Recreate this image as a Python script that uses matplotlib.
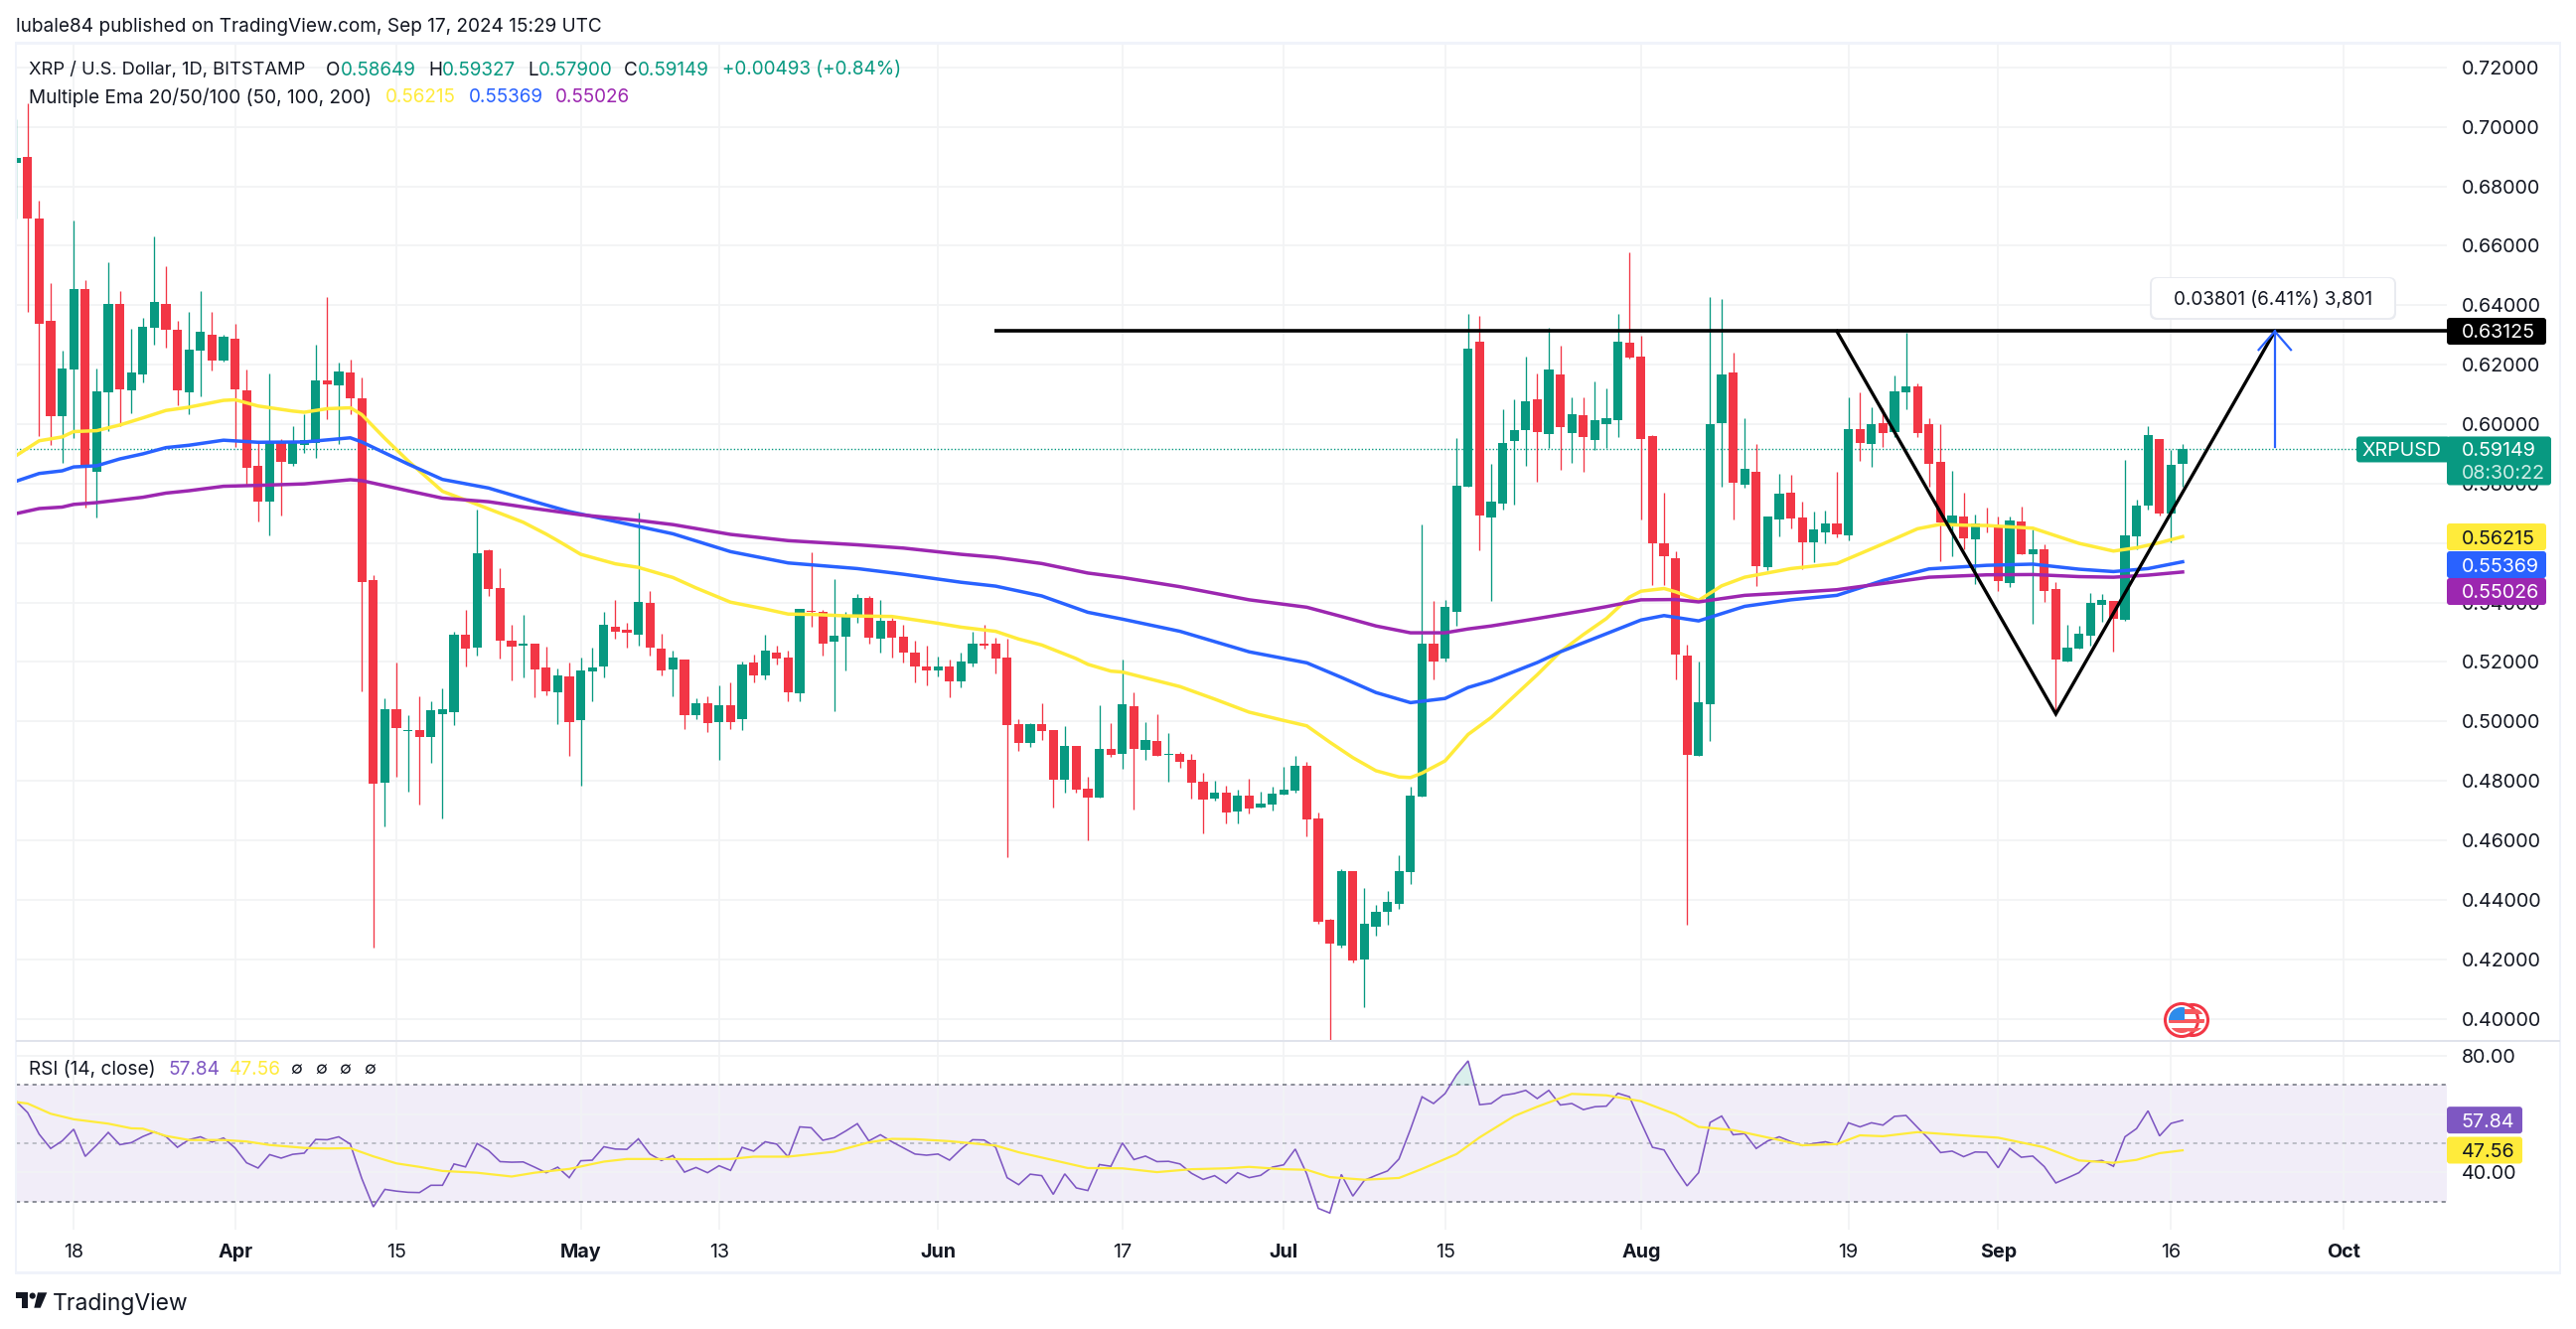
import matplotlib
matplotlib.use("Agg")
import matplotlib.pyplot as plt
from matplotlib.patches import FancyBboxPatch, Circle, Rectangle, Polygon

plt.rcParams['font.family'] = ['Inter', 'DejaVu Sans']

W, H = 2593, 1338
# ---- data: day index 0 = 13 Mar 2024 -------------------------------------------
opens = [.6879,.6898,.6692,.6347,.6028,.6185,.6454,.5841,.6108,.6405,
 .6115,.6168,.6324,.6405,.6317,.6107,.6248,.6301,.6214,.6287,
 .6113,.5860,.5738,.5943,.5867,.5931,.5938,.6147,.6130,.6174,
 .6087,.5474,.4793,.5040,.4967,.4970,.4946,.5023,.5030,.5290,
 .5247,.5574,.5447,.5270,.5254,.5263,.5180,.5097,.5151,.5003,
 .5167,.5186,.5317,.5307,.5293,.5400,.5244,.5174,.5207,.5020,
 .5060,.4997,.5053,.5007,.5197,.5156,.5233,.5214,.5093,.5373,
 .5370,.5267,.5284,.5357,.5414,.5277,.5337,.5284,.5233,.5186,
 .5170,.5184,.5133,.5196,.5260,.5260,.5214,.4990,.4926,.4990,
 .4970,.4803,.4916,.4772,.4742,.4907,.4890,.5050,.4903,.4933,
 .4886,.4890,.4870,.4796,.4739,.4760,.4697,.4750,.4709,.4719,
 .4753,.4767,.4850,.4673,.4332,.4245,.4495,.4199,.4310,.4358,
 .4386,.4492,.4746,.5260,.5210,.5369,.5791,.6279,.5687,.5734,
 .5944,.5980,.6085,.5968,.6168,.5971,.6031,.5948,.5999,.6014,
 .6275,.6228,.5961,.5600,.5550,.5223,.4883,.5058,.6004,.6175,
 .5797,.5841,.5520,.5679,.5770,.5687,.5601,.5635,.5667,.5627,
 .5984,.5934,.6004,.5974,.6108,.6128,.6001,.5874,.5657,.5690,
 .5614,.5663,.5660,.5466,.5674,.5563,.5580,.5446,.5202,.5246,
 .5289,.5393,.5406,.5343,.5623,.5727,.5951,.5700,.58649]
highs = [.7026,.7078,.6751,.6475,.6247,.6684,.6486,.6187,.6544,.6449,
 .6321,.6357,.6630,.6531,.6347,.6377,.6449,.6377,.6301,.6337,
 .6184,.5940,.6170,.5950,.5994,.6032,.6268,.6428,.6207,.6217,
 .6156,.5491,.5077,.5197,.5022,.5083,.5067,.5110,.5303,.5374,
 .5714,.5578,.5517,.5326,.5360,.5263,.5251,.5177,.5197,.5214,
 .5247,.5370,.5407,.5333,.5701,.5440,.5295,.5237,.5207,.5077,
 .5083,.5120,.5130,.5200,.5226,.5293,.5256,.5237,.5380,.5570,
 .5376,.5480,.5370,.5428,.5421,.5407,.5347,.5326,.5270,.5254,
 .5217,.5207,.5230,.5303,.5324,.5280,.5277,.5007,.4994,.5060,
 .4970,.4983,.4916,.4813,.5053,.4993,.5207,.5097,.4997,.5023,
 .4960,.4897,.4890,.4826,.4800,.4783,.4770,.4806,.4762,.4779,
 .4846,.4883,.4863,.4693,.4336,.4502,.4495,.4439,.4383,.4429,
 .4549,.4779,.5661,.5404,.5407,.5952,.6372,.6365,.5867,.6049,
 .6082,.6228,.6169,.6325,.6265,.6091,.6091,.6145,.6121,.6372,
 .6579,.6299,.5964,.5770,.5573,.5257,.5202,.6428,.6420,.6242,
 .6021,.5934,.5690,.5834,.5831,.5740,.5707,.5710,.5841,.6091,
 .6108,.6056,.6052,.6164,.6309,.6138,.6021,.6000,.5844,.5768,
 .5696,.5718,.5690,.5690,.5724,.5646,.5596,.5470,.5325,.5323,
 .5431,.5430,.5406,.5881,.5746,.5993,.5951,.5913,.59327]
lows = [.6693,.6377,.5960,.5929,.5871,.5952,.5721,.5687,.5978,.5994,
 .6038,.6141,.6268,.6259,.6063,.6034,.6093,.6180,.6210,.5923,
 .5797,.5671,.5625,.5691,.5861,.5903,.5886,.6017,.5934,.6034,
 .5102,.4240,.4646,.4815,.4763,.4720,.4860,.4672,.4987,.5186,
 .5223,.5421,.5210,.5137,.5147,.5080,.5089,.4990,.4883,.4783,
 .5067,.5147,.5277,.5247,.5255,.5223,.5154,.5086,.4974,.5006,
 .4963,.4870,.4974,.4970,.5131,.5140,.5193,.5067,.5067,.5320,
 .5223,.5033,.5170,.5333,.5263,.5233,.5214,.5197,.5130,.5120,
 .5150,.5080,.5116,.5184,.5244,.5160,.4544,.4900,.4913,.4937,
 .4709,.4760,.4760,.4600,.4742,.4880,.4839,.4702,.4870,.4883,
 .4797,.4843,.4740,.4623,.4733,.4656,.4656,.4690,.4709,.4699,
 .4753,.4761,.4613,.4318,.3928,.4239,.4188,.4039,.4279,.4316,
 .4369,.4453,.4746,.5140,.5200,.5323,.5791,.5577,.5406,.5713,
 .5730,.5861,.5807,.5921,.5847,.5869,.5841,.5913,.5921,.5958,
 .6219,.5679,.5460,.5460,.5140,.4317,.4883,.4933,.5791,.5679,
 .5785,.5456,.5510,.5623,.5648,.5512,.5536,.5598,.5620,.5610,
 .5877,.5855,.5924,.5958,.6049,.5958,.5791,.5540,.5557,.5579,
 .5462,.5635,.5440,.5451,.5562,.5328,.5401,.5033,.5200,.5245,
 .5256,.5334,.5236,.5338,.5579,.5713,.5692,.5601,.57900]
closes = [.6894,.6692,.6338,.6028,.6187,.6454,.5854,.6110,.6405,.6118,
 .6174,.6328,.6410,.6318,.6115,.6251,.6310,.6214,.6294,.6118,
 .5854,.5741,.5940,.5874,.5935,.5946,.6147,.6133,.6177,.6087,
 .5470,.4790,.5040,.4977,.4970,.4949,.5037,.5040,.5293,.5244,
 .5567,.5444,.5270,.5251,.5260,.5174,.5100,.5153,.4997,.5170,
 .5180,.5324,.5300,.5297,.5403,.5247,.5170,.5214,.5020,.5060,
 .4993,.5053,.4997,.5193,.5156,.5237,.5210,.5097,.5380,.5367,
 .5263,.5287,.5360,.5414,.5280,.5337,.5280,.5230,.5184,.5170,
 .5184,.5133,.5200,.5260,.5255,.5211,.4987,.4926,.4990,.4967,
 .4803,.4916,.4770,.4742,.4907,.4886,.5057,.4907,.4937,.4883,
 .4890,.4863,.4793,.4736,.4760,.4693,.4750,.4706,.4723,.4756,
 .4770,.4850,.4669,.4326,.4252,.4495,.4196,.4319,.4358,.4392,
 .4495,.4750,.5263,.5200,.5384,.5794,.6255,.5694,.5740,.5938,
 .5981,.6078,.5974,.6185,.5991,.6035,.5958,.6014,.6021,.6279,
 .6225,.5951,.5600,.5557,.5226,.4886,.5063,.6000,.6168,.5802,
 .5850,.5523,.5690,.5767,.5684,.5603,.5646,.5667,.5630,.5984,
 .5938,.6000,.5971,.6111,.6128,.5971,.5867,.5670,.5694,.5617,
 .5667,.5657,.5473,.5677,.5563,.5580,.5440,.5209,.5249,.5296,
 .5399,.5409,.5346,.5627,.5727,.5964,.5700,.5864,.59149]

ema50_days = [0,2,4,5,7,9,11,13,15,18,19,21,24,25,27,29,30,32,34,37,40,44,46,47,49,52,54,57,59,62,65,67,69,72,76,80,82,85,87,89,92,93,95,96,101,104,107,110,112,114,116,118,120,121,122,124,126,128,130,132,134,136,138,140,141,143,144,146,148,150,154,158,162,165,167,169,171,175,179,182,184,186,188]
ema50 = [.5894,.5944,.5957,.5975,.5978,.5997,.6021,.6046,.6057,.6080,.6082,.6061,.6044,.6040,.6052,.6055,.6032,.5952,.5877,.5774,.5730,.5670,.5630,.5608,.5562,.5530,.5518,.5484,.5449,.5401,.5378,.5361,.5360,.5355,.5353,.5330,.5317,.5303,.5277,.5257,.5211,.5192,.5169,.5166,.5117,.5075,.5031,.5003,.4985,.4930,.4878,.4834,.4813,.4811,.4826,.4867,.4956,.5013,.5085,.5157,.5234,.5292,.5346,.5418,.5438,.5447,.5436,.5407,.5456,.5485,.5514,.5531,.5597,.5648,.5663,.5660,.5659,.5650,.5599,.5573,.5584,.5601,.56215]
ema100_days = [0,2,4,5,7,9,11,13,15,18,21,25,29,30,34,37,41,45,48,54,57,62,67,73,77,82,85,89,93,96,101,107,112,115,118,121,124,126,128,132,134,138,141,143,146,150,154,158,162,166,171,175,179,182,185,188]
ema100 = [.5808,.5834,.5843,.5856,.5860,.5883,.5900,.5921,.5929,.5946,.5939,.5940,.5954,.5940,.5866,.5814,.5785,.5739,.5706,.5656,.5631,.5571,.5533,.5514,.5495,.5468,.5455,.5422,.5367,.5344,.5303,.5234,.5197,.5148,.5097,.5063,.5077,.5114,.5137,.5198,.5234,.5295,.5341,.5356,.5338,.5387,.5409,.5424,.5474,.5513,.5525,.5529,.5512,.5504,.5514,.55369]
ema200_days = [0,2,4,5,7,9,11,13,15,18,21,25,29,30,34,37,41,45,49,54,57,62,67,73,77,82,85,89,93,96,101,107,112,115,118,121,124,126,128,132,136,138,141,144,146,150,154,158,162,166,171,175,179,182,185,188]
ema200 = [.5699,.5716,.5721,.5730,.5736,.5745,.5754,.5768,.5776,.5791,.5794,.5799,.5813,.5810,.5776,.5751,.5739,.5716,.5695,.5676,.5662,.5629,.5608,.5594,.5583,.5562,.5552,.5531,.5499,.5484,.5453,.5409,.5384,.5353,.5321,.5298,.5298,.5311,.5321,.5346,.5372,.5386,.5409,.5410,.5402,.5424,.5433,.5443,.5464,.5485,.5493,.5494,.5487,.5485,.5492,.55026]

rsi = [64.4,60.5,53.1,48.2,50.8,54.8,45.5,49.4,53.7,49.5,50.2,52.3,53.9,52.3,48.6,51.2,52.2,50.4,51.8,48.4,
 43.3,41.5,46.1,44.9,46.2,46.6,51.3,51.2,52.2,49.7,37.9,28.2,34.2,33.6,33.2,33.1,35.6,35.6,42.9,41.9,
 49.9,47.5,43.7,43.5,43.6,41.8,39.9,41.8,38.2,44.0,44.2,48.8,48.0,47.9,51.5,46.3,44.1,45.8,40.1,41.7,
 39.9,42.3,40.7,48.6,47.3,50.5,49.7,45.3,55.6,55.3,51.0,51.9,54.2,56.7,50.8,52.9,50.5,48.4,46.3,45.9,
 46.3,44.2,48.0,51.2,51.1,48.6,38.2,35.8,39.4,38.9,32.5,39.5,34.7,33.8,42.7,42.1,50.1,44.4,45.6,43.7,
 43.8,42.9,39.7,37.6,38.9,36.3,39.9,38.2,39.0,41.8,42.6,48.0,39.5,27.7,26.1,39.3,31.9,37.3,39.0,40.5,
 44.6,54.8,65.9,63.6,67.0,73.4,78.2,63.2,63.6,66.4,67.0,68.1,65.3,68.1,63.1,63.6,61.5,62.5,62.7,67.1,
 65.9,57.1,48.6,47.7,41.2,35.4,39.9,57.1,59.3,52.9,53.3,48.2,50.8,52.2,50.6,49.2,49.9,50.5,49.5,57.0,
 55.6,57.0,56.2,59.2,59.5,55.4,51.4,46.8,47.3,45.4,47.0,46.9,41.6,48.2,45.2,45.6,42.0,36.4,38.1,39.9,
 43.7,44.1,42.1,52.2,55.0,61.1,52.5,56.8,57.84]
rsi_ma_days = [0,1,3,5,8,10,11,13,15,18,20,22,25,27,29,31,33,35,37,40,43,45,48,51,53,56,59,62,64,67,71,74,76,78,81,85,87,89,91,93,96,99,102,105,107,110,112,114,117,120,122,125,127,130,132,135,138,141,144,146,149,153,155,158,160,162,165,170,172,176,179,182,184,186,188]
rsi_ma = [64.1,63.6,60.1,58.2,56.7,55.1,55.0,52.5,51.1,51.1,50.6,49.4,48.4,48.2,48.3,45.5,43.1,41.9,40.5,39.9,38.6,39.9,41.2,43.7,44.6,44.6,44.5,44.6,45.4,45.4,47.1,50.3,51.5,51.4,50.7,49.2,46.9,45.1,43.3,41.5,41.4,40.1,41.1,41.4,41.9,41.1,40.9,38.4,37.5,38.1,41.2,46.3,52.0,59.3,62.5,66.9,66.4,64.4,59.9,55.6,54.5,51.1,49.3,49.7,52.7,52.4,53.8,52.4,51.9,48.6,44.1,43.3,44.3,46.6,47.56]

price_ticks = [.40,.42,.44,.46,.48,.50,.52,.54,.56,.58,.60,.62,.64,.66,.68,.70,.72]
rsi_ticks = [40, 60, 80]
date_ticks = [5,19,33,49,61,80,96,110,124,141,159,172,187,202]
date_labels = ['18','Apr','15','May','13','Jun','17','Jul','15','Aug','19','Sep','16','Oct']
pattern_days = [158,177,196]
pattern_prices = [.63125,.5025,.63125]
resistance = .63125
resistance_start = 84.9
arrow_day = 196
arrow_from = .5922
last_price = .59149

GREEN, RED = '#089981', '#F23645'
YEL, BLUE, PUR, RSIC = '#FFEB3B', '#2962FF', '#9C27B0', '#7E57C2'
GRID, BORDER, TXT = '#F2F3F5', '#F0F3FA', '#131722'

fig = plt.figure(figsize=(W/100, H/100), dpi=100, facecolor='white')

def rect(x0, y0, x1, y1):
    return [x0/W, 1-y1/H, (x1-x0)/W, (y1-y0)/H]

ax = fig.add_axes(rect(16, 43.5, 2463, 1047.5))
ar = fig.add_axes(rect(16, 1048.5, 2463, 1238))
XL = ((16-16.2)/11.6, (2463-16.2)/11.6)
ax.set_xlim(*XL); ar.set_xlim(*XL)
ax.set_ylim(.39265, .72816)
ar.set_ylim(20.4, 84.85)

for a in (ax, ar):
    for s in a.spines.values():
        s.set_visible(False)
    a.set_xticks(date_ticks)
    a.grid(True, color=GRID, lw=1.3)
    a.set_axisbelow(True)
    a.yaxis.tick_right()
    a.tick_params(axis='both', length=0)

ax.set_yticks(price_ticks)
ax.set_yticklabels(['%.5f' % p for p in price_ticks], fontsize=14.2, color=TXT)
ax.tick_params(axis='y', pad=10.5)
ax.tick_params(axis='x', labelbottom=False)
ar.set_yticks(rsi_ticks)
ar.set_yticklabels(['%.2f' % v for v in rsi_ticks], fontsize=14.2, color=TXT)
ar.tick_params(axis='y', pad=10.5)
ar.set_xticklabels(date_labels, fontsize=14.2, color=TXT)
ar.tick_params(axis='x', pad=10)
for lab, t in zip(ar.get_xticklabels(), date_labels):
    if t.isalpha():
        lab.set_fontweight('bold')

# candles
days = list(range(len(opens)))
cols = [GREEN if c >= o else RED for o, c in zip(opens, closes)]
ax.vlines(days, lows, highs, colors=cols, lw=0.95, zorder=2)
ax.bar(days, [max(abs(c-o), .0003) for o, c in zip(opens, closes)],
       bottom=[min(o, c) for o, c in zip(opens, closes)],
       width=0.78, color=cols, lw=0, zorder=3)

ax.axhline(last_price, color=GREEN, lw=1, ls=(0, (1, 1.5)), zorder=1.5)
ax.plot(ema50_days, ema50, color=YEL, lw=2.5, zorder=4, solid_joinstyle='round')
ax.plot(ema100_days, ema100, color=BLUE, lw=2.5, zorder=4.1, solid_joinstyle='round')
ax.plot(ema200_days, ema200, color=PUR, lw=2.5, zorder=4.2, solid_joinstyle='round')

# drawings
ax.plot([resistance_start, XL[1]], [resistance, resistance], color='black', lw=2.6, zorder=6, solid_capstyle='butt')
ax.plot(pattern_days, pattern_prices, color='black', lw=2.4, zorder=6, solid_joinstyle='miter')
ax.plot([arrow_day, arrow_day], [arrow_from, resistance], color=BLUE, lw=1.6, zorder=6)
ax.plot([arrow_day-1.4, arrow_day, arrow_day+1.4], [.6250, resistance, .6250], color=BLUE, lw=1.6, zorder=6)

# RSI
ar.axhspan(30, 70, color=RSIC, alpha=.1, lw=0, zorder=0.5)
ar.axhline(70, color='#787B86', lw=1.2, ls=(0, (2.5, 2.5)), zorder=1)
ar.axhline(30, color='#787B86', lw=1.2, ls=(0, (2.5, 2.5)), zorder=1)
ar.axhline(50, color='#B2B5BE', lw=1.2, ls=(0, (2.5, 2.5)), zorder=1)
ar.fill_between(days, 70, rsi, where=[v > 70 for v in rsi], color=GREEN, alpha=.15, lw=0, interpolate=True)
ar.plot(days, rsi, color=RSIC, lw=1.15, zorder=3, solid_joinstyle='miter')
ar.plot(rsi_ma_days, rsi_ma, color=YEL, lw=1.6, zorder=3.1)

# overlay in pixel coordinates
ov = fig.add_axes([0, 0, 1, 1], facecolor='none', zorder=10)
ov.set_xlim(0, W); ov.set_ylim(H, 0); ov.axis('off')

def T(x, y, s, color=TXT, size=14.2, ha='left', **kw):
    kw.setdefault('zorder', 8)
    ov.text(x, y, s, color=color, fontsize=size, ha=ha, va='center_baseline', **kw)

def box(x0, y0, x1, y1, color, round_=3, z=5, **kw):
    ov.add_patch(FancyBboxPatch((x0+round_, y0+round_), x1-x0-2*round_, y1-y0-2*round_,
                                boxstyle='round,pad=%g,rounding_size=%g' % (round_, round_),
                                fc=color, ec='none', zorder=z, **kw))

# frame
for (x0, y0, x1, y1) in [(14.5, 41.5, 2578, 44.5), (14.5, 1280, 2578, 1283), (14.5, 41.5, 17, 1283), (2575.5, 41.5, 2578, 1283)]:
    ov.add_patch(Rectangle((x0, y0), x1-x0, y1-y0, fc=BORDER, ec='none', zorder=1))
ov.add_patch(Rectangle((16, 1047), 2561, 2, fc='#E0E3EB', ec='none', zorder=1))

T(16, 25, 'lubale84 published on TradingView.com, Sep 17, 2024 15:29 UTC', size=13.7)
T(29, 68.5, 'XRP / U.S. Dollar, 1D, BITSTAMP', size=13.2)
for x, s, c in [(328, 'O', TXT), (343, '0.58649', GREEN), (431, 'H', TXT), (445, '0.59327', GREEN),
                (531, 'L', TXT), (542, '0.57900', GREEN), (628, 'C', TXT), (641.5, '0.59149', GREEN),
                (727, '+0.00493 (+0.84%)', GREEN)]:
    T(x, 68.5, s, color=c, size=13.6)
T(29, 96, 'Multiple Ema 20/50/100 (50, 100, 200)', size=13.7)
T(388, 96, '0.56215', color=YEL, size=13.6)
T(472, 96, '0.55369', color=BLUE, size=13.6)
T(559, 96, '0.55026', color=PUR, size=13.6)
T(29, 1075, 'RSI (14, close)', size=13.7)
T(169, 1075, '57.84', color=RSIC, size=13.7)
T(231, 1075, '47.56', color=YEL, size=13.7)
for x in (292, 317, 341, 366):
    T(x, 1075, '\u2205', size=12.5)

def price_y(p):
    return 1025.5 - (p-.40)*2992.5
def rsi_y(v):
    return 1062.3 + (80-v)*2.95

# price tags
y = price_y(resistance)
box(2463, y-13.5, 2563, y+13.5, 'black'); T(2477.5, y, '%.5f' % resistance, color='white')
y = price_y(last_price)
box(2372, y-13, 2466, y+13, GREEN); T(2377, y, 'XRPUSD', color='white', size=14.2)
box(2463, y-13, 2568, y+36, GREEN)
T(2477.5, y, '%.5f' % last_price, color='white'); T(2477.5, y+23, '08:30:22', color='#CFEDE7')
box(2463, 527, 2563, 554, YEL, z=5); T(2477.5, 540.5, '0.56215')
box(2463, 555, 2563, 582, BLUE, z=5.1); T(2477.5, 568.5, '0.55369', color='white')
box(2463, 582, 2563, 609, PUR, z=5.2); T(2477.5, 595.5, '0.55026', color='white')
y = rsi_y(57.84)
box(2463, y-13.5, 2539, y+13.5, RSIC); T(2477.5, y, '57.84', color='white')
y = rsi_y(47.56)
box(2463, y-13.5, 2539, y+13.5, YEL); T(2477.5, y, '47.56')

# tooltip
box(2164, 279, 2412, 322, '#E9EBF0', round_=7, z=4)
box(2166, 280, 2410, 320, 'white', round_=6, z=4.1)
T(2288, 300, '0.03801 (6.41%) 3,801', ha='center', size=13.6)

# flag icons
for cx, cy, r in [(2207, 1027, 15.5), (2196, 1027, 16.5)]:
    ov.add_patch(Circle((cx, cy), r, fc='white', ec=RED, lw=2.2, zorder=3))
    clip = Circle((cx, cy), r-3.5, transform=ov.transData)
    for k, yy in enumerate((cy-11, cy-1.5, cy+8)):
        s = Rectangle((cx-r, yy), 2*r, 4.8, fc='#F7595E', ec='none', zorder=3.1)
        ov.add_patch(s); s.set_clip_path(clip)
    if cx == 2196:
        s = Rectangle((cx-r, cy-r), r+2.5, r-0.5, fc='#2D8CEB', ec='none', zorder=3.2)
        ov.add_patch(s); s.set_clip_path(clip)

# TradingView logo
LOGO = '#131722'
ov.add_patch(Polygon([(16, 1301.3), (27.5, 1301.3), (27.5, 1316.7), (21.5, 1316.7), (21.5, 1307), (16, 1307)], fc=LOGO, ec='none'))
ov.add_patch(Circle((32.7, 1304.6), 3.1, fc=LOGO, ec='none'))
ov.add_patch(Polygon([(38, 1301.3), (47.3, 1301.3), (40.7, 1316.7), (34.3, 1316.7)], fc=LOGO, ec='none'))
T(53, 1310.7, 'TradingView', size=16.5)

fig.savefig('out.png', dpi=100, facecolor='white')
